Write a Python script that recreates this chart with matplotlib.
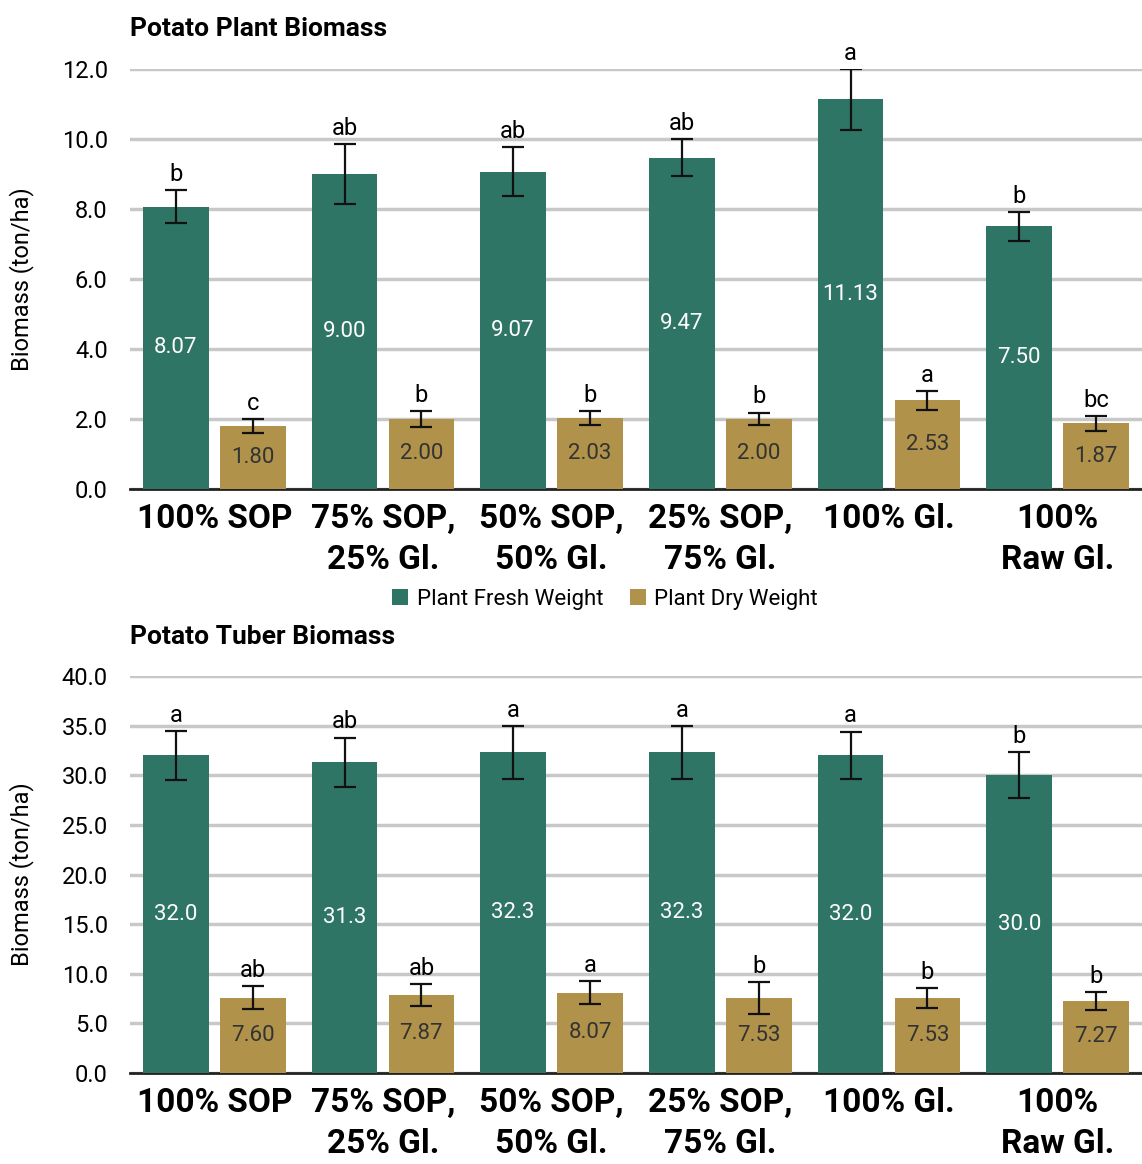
import matplotlib
matplotlib.use('Agg')
import matplotlib.pyplot as plt
import numpy as np

# treatments
groups = ['100% SOP', '75% SOP,\n25% Gl.', '50% SOP,\n50% Gl.',
          '25% SOP,\n75% Gl.', '100% Gl.', '100%\nRaw Gl.']

# plant biomass
plant_fresh = [8.07, 9.00, 9.07, 9.47, 11.13, 7.50]
plant_fresh_err = [0.48, 0.85, 0.70, 0.53, 0.87, 0.41]
plant_fresh_let = ['b', 'ab', 'ab', 'ab', 'a', 'b']
plant_dry = [1.80, 2.00, 2.03, 2.00, 2.53, 1.87]
plant_dry_err = [0.20, 0.22, 0.20, 0.18, 0.27, 0.22]
plant_dry_let = ['c', 'b', 'b', 'b', 'a', 'bc']

# tuber biomass
tuber_fresh = [32.0, 31.3, 32.3, 32.3, 32.0, 30.0]
tuber_fresh_err = [2.45, 2.5, 2.7, 2.7, 2.4, 2.3]
tuber_fresh_let = ['a', 'ab', 'a', 'a', 'a', 'b']
tuber_dry = [7.60, 7.87, 8.07, 7.53, 7.53, 7.27]
tuber_dry_err = [1.15, 1.1, 1.15, 1.6, 1.0, 0.9]
tuber_dry_let = ['ab', 'ab', 'a', 'b', 'b', 'b']

plt.rcParams['font.family'] = ['Roboto', 'DejaVu Sans']

FRESH = '#2f7566'
DRY = '#b0924a'

fig = plt.figure(figsize=(11.42, 11.64), dpi=100)
ax1 = fig.add_axes([0.1138, 0.580, 0.8862, 0.3607])
ax2 = fig.add_axes([0.1138, 0.0782, 0.8862, 0.3410])


def draw(ax, fresh, ferr, flet, dry, derr, dlet, ymax, step, ffmt, dfmt, title, tpad):
    x = np.arange(len(groups))
    w = 0.39
    off = 0.228
    ax.bar(x - off, fresh, w, color=FRESH, zorder=3, label='Plant Fresh Weight')
    ax.bar(x + off, dry, w, color=DRY, zorder=3, label='Plant Dry Weight')
    ax.errorbar(x - off, fresh, yerr=ferr, fmt='none', ecolor='#111111',
                elinewidth=1.6, capsize=8, capthick=1.6, zorder=4)
    ax.errorbar(x + off, dry, yerr=derr, fmt='none', ecolor='#111111',
                elinewidth=1.6, capsize=8, capthick=1.6, zorder=4)
    for i in range(len(groups)):
        ax.text(x[i] - off, fresh[i] / 2, ffmt.format(fresh[i]), color='white',
                ha='center', va='center', fontsize=16, zorder=5)
        ax.text(x[i] + off, dry[i] / 2, dfmt.format(dry[i]), color='#333333',
                ha='center', va='center', fontsize=16, zorder=5)
        ax.annotate(flet[i], (x[i] - off, fresh[i] + ferr[i]), xytext=(0, 3),
                    textcoords='offset points', ha='center', va='bottom', fontsize=17)
        ax.annotate(dlet[i], (x[i] + off, dry[i] + derr[i]), xytext=(0, 3),
                    textcoords='offset points', ha='center', va='bottom', fontsize=17)
    ax.set_xlim(-0.5, len(groups) - 0.5)
    ax.set_ylim(0, ymax)
    ticks = np.arange(0, ymax + step / 2, step)
    ax.set_yticks(ticks)
    ax.set_yticklabels(['{:.1f}'.format(v) for v in ticks], fontsize=17)
    ax.set_xticks(x)
    ax.set_xticklabels(groups, fontsize=24, fontweight='bold', linespacing=1.35)
    ax.tick_params(length=0)
    ax.tick_params(axis='y', pad=16)
    ax.tick_params(axis='x', pad=10)
    ax.grid(axis='y', color='#c8c8c8', linewidth=2.5, zorder=0)
    for s in ['top', 'right', 'left']:
        ax.spines[s].set_visible(False)
    ax.spines['bottom'].set_linewidth(2)
    ax.spines['bottom'].set_color('#222222')
    ax.set_ylabel('Biomass (ton/ha)', fontsize=17, labelpad=20)
    ax.set_title(title, fontsize=19, fontweight='bold', loc='left', pad=tpad)


draw(ax1, plant_fresh, plant_fresh_err, plant_fresh_let, plant_dry, plant_dry_err,
     plant_dry_let, 12, 2, '{:.2f}', '{:.2f}', 'Potato Plant Biomass', 24)
draw(ax2, tuber_fresh, tuber_fresh_err, tuber_fresh_let, tuber_dry, tuber_dry_err,
     tuber_dry_let, 40, 5, '{:.1f}', '{:.2f}', 'Potato Tuber Biomass', 23)

h, l = ax1.get_legend_handles_labels()
fig.legend(h, l, loc='center', bbox_to_anchor=(0.53, 0.485), ncol=2, frameon=False,
           fontsize=16, handlelength=0.7, handleheight=0.7, handletextpad=0.4, columnspacing=1.2)

fig.savefig('out.png', dpi=100)
